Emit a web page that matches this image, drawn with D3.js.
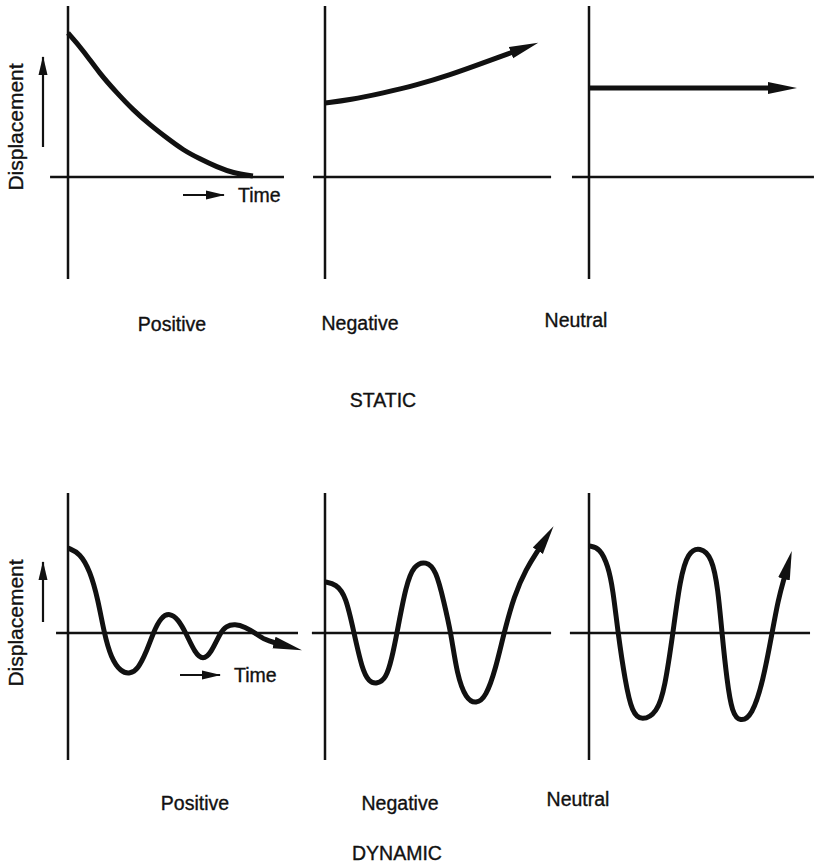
<!DOCTYPE html>
<html lang="en">
<head>
    <meta charset="UTF-8">
    <script src="https://d3js.org/d3.v7.min.js"></script>
    <title>Stability</title>
    <style>
        body { margin: 0; background: white; }
        text { font-family: "Liberation Sans", Arial, sans-serif; fill: #111; stroke: #111; stroke-width: 0.35px; }
        .axis-line { stroke: #111; stroke-width: 2.5px; }
        .curve { fill: none; stroke: #111; stroke-width: 5px; stroke-linejoin: round; }
        .hint { stroke: #111; stroke-width: 2.2px; }
    </style>
</head>
<body>
<div class="fig"></div>
<script>
    // row / column names
    const rowNames = ["STATIC", "DYNAMIC"];
    const colNames = ["Positive", "Negative", "Neutral"];

    // curves: [time, displacement]
    const staticPositive = [[0, 1.44], [0.65, 1.27], [1.39, 1.03], [2.13, 0.84], [2.83, 0.67], [3.57, 0.52],
        [4.30, 0.39], [5.00, 0.27], [5.74, 0.18], [6.48, 0.10], [7.17, 0.04], [8.04, 0.01]];
    const staticNegative = [[0, 0.74], [1.09, 0.77], [2.52, 0.84], [4.0, 0.92], [5.43, 1.02], [6.87, 1.14], [8.17, 1.25]];
    const staticNeutral = [[0, 0.89], [7.87, 0.89]];

    const dynamicPositive = [[0, 0.85], [0.52, 0.80], [0.96, 0.62], [1.30, 0.34], [1.57, 0], [1.87, -0.25], [2.30, -0.39],
        [2.70, -0.41], [3.04, -0.36], [3.39, -0.20], [3.70, 0], [4.04, 0.16], [4.43, 0.20], [4.78, 0.14], [5.13, 0],
        [5.52, -0.20], [5.87, -0.27], [6.22, -0.20], [6.61, 0], [6.87, 0.07], [7.26, 0.09], [7.70, 0.06], [8.13, 0],
        [8.57, -0.07], [9.04, -0.10]];
    const dynamicNegative = [[0, 0.51], [0.48, 0.49], [0.91, 0.37], [1.26, 0], [1.61, -0.36], [1.91, -0.49], [2.26, -0.51],
        [2.65, -0.46], [2.91, -0.25], [3.13, 0], [3.52, 0.48], [3.87, 0.68], [4.39, 0.72], [4.83, 0.63], [5.17, 0.31],
        [5.48, 0], [5.74, -0.42], [6.13, -0.66], [6.57, -0.71], [7.00, -0.64], [7.43, -0.35], [7.78, 0], [8.22, 0.37],
        [8.74, 0.64], [9.30, 0.84]];
    const dynamicNeutral = [[0, 0.87], [0.48, 0.85], [0.83, 0.67], [1.04, 0.44], [1.26, 0], [1.57, -0.48], [1.87, -0.80],
        [2.30, -0.88], [2.96, -0.80], [3.30, -0.55], [3.65, 0], [3.96, 0.54], [4.30, 0.81], [4.83, 0.86], [5.35, 0.76],
        [5.61, 0.44], [5.78, 0], [6.00, -0.48], [6.22, -0.80], [6.57, -0.89], [7.09, -0.83], [7.57, -0.48], [7.96, 0],
        [8.22, 0.33], [8.50, 0.56]];

    const curves = [
        [staticPositive, staticNegative, staticNeutral],
        [dynamicPositive, dynamicNegative, dynamicNeutral]
    ];
    // whether the curve ends in an arrow
    const arrows = [[false, true, true], [true, true, true]];

    // axis extents in data units: time [from, to], displacement [bottom, top]
    const timeExtent = [
        [[-0.78, 9.39], [-0.52, 9.83], [-0.74, 9.78]],
        [[-0.52, 10.0], [-0.57, 9.83], [-0.83, 9.61]]
    ];
    const dispExtent = [[-1.02, 1.71], [-1.27, 1.40]];

    // layout
    const width = 814, height = 865;
    const originX = [68, 325, 589];
    const originY = [177, 633];
    const pxPerTime = 23, pxPerDisp = 100;

    const svg = d3.select(".fig").append("svg")
        .attr("width", width)
        .attr("height", height);

    svg.append("rect").attr("width", width).attr("height", height).attr("fill", "white");

    const defs = svg.append("defs");
    defs.append("marker")
        .attr("id", "bigArrow")
        .attr("markerUnits", "userSpaceOnUse")
        .attr("markerWidth", 32).attr("markerHeight", 14)
        .attr("refX", 2).attr("refY", 7)
        .attr("orient", "auto")
        .append("path")
        .attr("d", "M0,1 L29,7 L0,13 Z")
        .attr("fill", "#111");
    defs.append("marker")
        .attr("id", "smallArrow")
        .attr("markerUnits", "userSpaceOnUse")
        .attr("markerWidth", 20).attr("markerHeight", 10)
        .attr("refX", 18).attr("refY", 5)
        .attr("orient", "auto")
        .append("path")
        .attr("d", "M0,0.5 L19,5 L0,9.5 Z")
        .attr("fill", "#111");

    rowNames.forEach((rowName, r) => {
        colNames.forEach((colName, c) => {
            const x = d3.scaleLinear().domain([0, 10]).range([originX[c], originX[c] + 10 * pxPerTime]);
            const y = d3.scaleLinear().domain([0, 1]).range([originY[r], originY[r] - pxPerDisp]);
            const g = svg.append("g");

            // axes
            g.append("line").attr("class", "axis-line")
                .attr("x1", x(timeExtent[r][c][0])).attr("x2", x(timeExtent[r][c][1]))
                .attr("y1", y(0)).attr("y2", y(0));
            g.append("line").attr("class", "axis-line")
                .attr("x1", x(0)).attr("x2", x(0))
                .attr("y1", y(dispExtent[r][1])).attr("y2", y(dispExtent[r][0]));

            const line = d3.line()
                .x(d => x(d[0]))
                .y(d => y(d[1]))
                .curve(d3.curveBasis);

            const path = g.append("path")
                .attr("class", "curve")
                .attr("d", line(curves[r][c]));
            if (arrows[r][c]) path.attr("marker-end", "url(#bigArrow)");

            // axis hints on the first column
            if (c === 0) {
                const hy = r === 0 ? [1.20, 0.30] : [0.71, 0.11];
                const labelY = r === 0 ? 127 : 623;
                svg.append("text")
                    .attr("transform", `translate(23,${labelY}) rotate(-90)`)
                    .attr("text-anchor", "middle")
                    .attr("font-size", 21)
                    .text("Displacement");
                svg.append("line").attr("class", "hint")
                    .attr("x1", 43).attr("x2", 43)
                    .attr("y1", y(hy[1])).attr("y2", y(hy[0]))
                    .attr("marker-end", "url(#smallArrow)");

                const ty = r === 0 ? -0.18 : -0.42;
                const tx = r === 0 ? [5.0, 6.78] : [4.87, 6.61];
                svg.append("line").attr("class", "hint")
                    .attr("x1", x(tx[0])).attr("x2", x(tx[1]))
                    .attr("y1", y(ty)).attr("y2", y(ty))
                    .attr("marker-end", "url(#smallArrow)");
                svg.append("text")
                    .attr("x", x(tx[1]) + 14)
                    .attr("y", y(ty) + 7)
                    .attr("font-size", 19.5)
                    .text("Time");
            }
        });
    });

    // column labels under each panel
    const labelX = [[172, 360, 576], [195, 400, 578]];
    const labelY = [[331, 330, 327], [810, 810, 806]];
    rowNames.forEach((rowName, r) => {
        colNames.forEach((colName, c) => {
            svg.append("text")
                .attr("x", labelX[r][c]).attr("y", labelY[r][c])
                .attr("text-anchor", "middle")
                .attr("font-size", 19.5)
                .text(colName);
        });
    });

    const titleX = [383, 397];
    const titleY = [407, 860];
    rowNames.forEach((rowName, r) => {
        svg.append("text")
            .attr("x", titleX[r]).attr("y", titleY[r])
            .attr("text-anchor", "middle")
            .attr("font-size", 19.5)
            .text(rowName);
    });
</script>
</body>
</html>
